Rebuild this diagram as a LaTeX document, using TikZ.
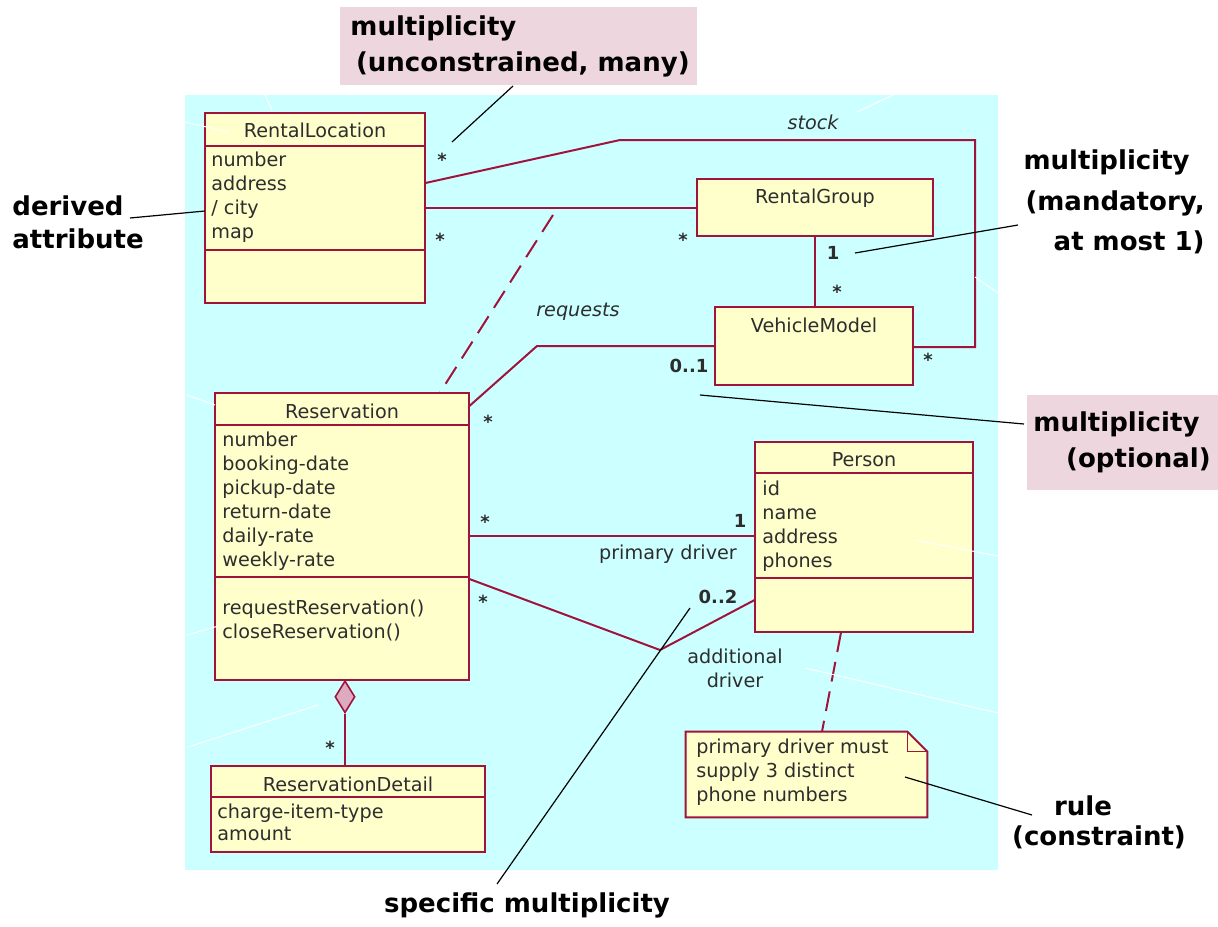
\documentclass[tikz,border=0pt]{standalone}
\usepackage{fontspec}
\setmainfont{DejaVu Sans}
\newfontfamily\calloutfont{DejaVu Sans}
\usetikzlibrary{fit,calc,shapes.geometric}

\definecolor{umlred}{RGB}{160,20,60}
\definecolor{umlfill}{RGB}{255,255,204}
\definecolor{bgcyan}{RGB}{204,255,255}
\definecolor{calloutpink}{RGB}{238,214,222}
\definecolor{diamondpink}{RGB}{222,170,192}
\definecolor{umltext}{RGB}{45,45,45}

\begin{document}
\begin{tikzpicture}[x=0.5pt,y=-0.5pt,
  classbox/.style={draw=umlred,line width=1pt,fill=umlfill,inner sep=0pt},
  compsep/.style={draw=umlred,line width=1pt},
  assoc/.style={draw=umlred,line width=1pt},
  depline/.style={draw=umlred,line width=1pt,dash pattern=on 10pt off 5pt},
  cname/.style={font=\fontsize{9.6}{12}\selectfont,text=umltext,inner sep=0pt},
  attr/.style={font=\fontsize{9.6}{12}\selectfont,text=umltext,anchor=west,inner sep=0pt,text height=7pt,text depth=2pt},
  mult/.style={font=\bfseries\fontsize{9}{11}\selectfont,text=umltext,inner sep=0pt},
  role/.style={font=\fontsize{9.6}{12}\selectfont,text=umltext,inner sep=0pt},
  rolename/.style={font=\itshape\fontsize{9.6}{12}\selectfont,text=umltext,inner sep=0pt},
  callout/.style={font=\calloutfont\bfseries\fontsize{13}{16}\selectfont,text=black,inner sep=0pt,anchor=west,text height=10pt,text depth=3pt},
  pointer/.style={draw=black,line width=0.6pt},
  ghost/.style={draw=white,line width=0.5pt}]

\useasboundingbox (0,0) rectangle (1218,926);
\fill[white] (0,0) rectangle (1218,926);

% diagram canvas and callout backgrounds
\fill[bgcyan] (185,95) rectangle (998,870);
\fill[calloutpink] (340,7) rectangle (697,85);
\fill[calloutpink] (1027,395) rectangle (1218,490);

% ---------- association lines ----------
\node[fit={(205,113) (425,303)},inner sep=0pt] (rl0) {};
\node[fit={(697,179) (933,236)},inner sep=0pt] (rg0) {};
\node[fit={(715,307) (913,385)},inner sep=0pt] (vm0) {};
\node[fit={(215,393) (469,680)},inner sep=0pt] (res0) {};
\node[fit={(755,442) (973,632)},inner sep=0pt] (per0) {};
\node[fit={(211,766) (485,852)},inner sep=0pt] (rd0) {};
\node[fit={(686,732) (927,817)},inner sep=0pt] (note) {};

% stock
\draw[assoc] (rl0.east |- 0,183) -- (620,140) -- (975,140) -- (975,347) -- (vm0.east |- 0,347);
% location -- group
\draw[assoc] (rl0.east |- 0,208) -- (rg0.west |- 0,208);
% group -- model
\draw[assoc] (rg0.south -| 815,0) -- (vm0.north -| 815,0);
% requests
\draw[assoc] (res0.east |- 0,406) -- (537,346) -- (vm0.west |- 0,346);
% dependency from reservation
\coordinate (depend) at (553,215);
\draw[depline] (depend) -- (res0.north -| 440,0);
% primary driver
\draw[assoc] (res0.east |- 0,536) -- (per0.west |- 0,536);
% additional driver
\draw[assoc] (res0.east |- 0,579) -- (660,650) -- (per0.west |- 0,600);
% note attachment
\draw[depline] (per0.south -| 841,0) -- (note.north -| 822,0);

% ---------- classes ----------
% RentalLocation
\node[classbox,fit={(205,113) (425,303)}] (rl) {};
\draw[compsep] (rl.west |- 0,146) -- (rl.east |- 0,146);
\draw[compsep] (rl.west |- 0,250) -- (rl.east |- 0,250);
\node[cname] (rl-name) at (315,130) {RentalLocation};
\foreach \t [count=\i from 0] in {number,address,{/ city},map}
  \node[attr] (rl-a\i) at (211,161+24*\i) {\t};

% RentalGroup
\node[classbox,fit={(697,179) (933,236)}] (rg) {};
\node[cname] (rg-name) at (815,198) {RentalGroup};

% VehicleModel
\node[classbox,fit={(715,307) (913,385)}] (vm) {};
\node[cname] (vm-name) at (814,325) {VehicleModel};

% Reservation
\node[classbox,fit={(215,393) (469,680)}] (res) {};
\draw[compsep] (res.west |- 0,425) -- (res.east |- 0,425);
\draw[compsep] (res.west |- 0,577) -- (res.east |- 0,577);
\node[cname] (res-name) at (342,411) {Reservation};
\foreach \t [count=\i from 0] in {number,booking-date,pickup-date,return-date,daily-rate,weekly-rate}
  \node[attr] (res-a\i) at (222,441+24*\i) {\t};
\node[attr] (res-o0) at (222,609) {requestReservation()};
\node[attr] (res-o1) at (222,633) {closeReservation()};

% Person
\node[classbox,fit={(755,442) (973,632)}] (per) {};
\draw[compsep] (per.west |- 0,473) -- (per.east |- 0,473);
\draw[compsep] (per.west |- 0,578) -- (per.east |- 0,578);
\node[cname] (per-name) at (864,460) {Person};
\foreach \t [count=\i from 0] in {id,name,address,phones}
  \node[attr] (per-a\i) at (762,490+24*\i) {\t};

% ReservationDetail
\node[classbox,fit={(211,766) (485,852)}] (rd) {};
\draw[compsep] (rd.west |- 0,797) -- (rd.east |- 0,797);
\node[cname] (rd-name) at (348,784) {ReservationDetail};
\node[attr] (rd-a0) at (217,813) {charge-item-type};
\node[attr] (rd-a1) at (217,835) {amount};

% composition diamond
\node[diamond,draw=umlred,fill=diamondpink,line width=0.8pt,inner sep=0pt,
      minimum width=10pt,minimum height=16pt,anchor=north] (agg) at (345,680) {};
\draw[assoc] (agg.south) -- (agg.south |- rd.north);

% constraint note
\draw[draw=umlred,line width=1pt,fill=umlfill]
  (note.north west) -- ($(note.north east)+(-20,0)$) -- ($(note.north east)+(0,20)$)
  -- (note.south east) -- (note.south west) -- cycle;
\draw[draw=umlred,line width=0.8pt]
  ($(note.north east)+(-20,0)$) -- ($(note.north east)+(-20,20)$) -- ($(note.north east)+(0,20)$);
\node[attr] (note-l0) at (696,748) {primary driver must};
\node[attr] (note-l1) at (696,772) {supply 3 distinct};
\node[attr] (note-l2) at (696,796) {phone numbers};

% ---------- multiplicities and roles ----------
\node[mult] (m1) at (442,160) {*};
\node[mult] (m2) at (440,240) {*};
\node[mult] (m3) at (683,240) {*};
\node[mult] (m4) at (833,253) {1};
\node[mult] (m5) at (837,292) {*};
\node[mult] (m6) at (928,360) {*};
\node[mult] (m7) at (689,366) {0..1};
\node[mult] (m8) at (488,422) {*};
\node[mult] (m9) at (485,522) {*};
\node[mult] (m10) at (740,521) {1};
\node[mult] (m11) at (483,602) {*};
\node[mult] (m12) at (718,597) {0..2};
\node[mult] (m13) at (330,748) {*};

\node[rolename] (r-stock) at (813,122) {stock};
\node[rolename] (r-req) at (578,312) {requests};
\node[role] (r-prim) at (668,554) {primary driver};
\node[role] (r-add1) at (735,656) {additional};
\node[role] (r-add2) at (735,680) {driver};

% ---------- faint guide strokes ----------
\draw[ghost] (185,122) -- (228,132);
\draw[ghost] (265,95) -- (272,110);
\draw[ghost] (857,112) -- (893,95);
\draw[ghost] (975,277) -- (998,293);
\draw[ghost] (187,395) -- (215,405);
\draw[ghost] (187,635) -- (222,625);
\draw[ghost] (188,747) -- (318,705);
\draw[ghost] (915,540) -- (998,556);
\draw[ghost] (805,668) -- (998,713);

% ---------- callouts ----------
\node[callout] (c-top1) at (350,28) {multiplicity};
\node[callout,anchor=east] (c-top2) at (690,64) {(unconstrained, many)};
\node[callout] (c-der1) at (12,208) {derived};
\node[callout] (c-der2) at (12,241) {attribute};
\node[callout,anchor=east] (c-man1) at (1190,162) {multiplicity};
\node[callout,anchor=east] (c-man2) at (1205,203) {(mandatory,};
\node[callout,anchor=east] (c-man3) at (1205,243) {at most 1)};
\node[callout] (c-opt1) at (1033,424) {multiplicity};
\node[callout,anchor=east] (c-opt2) at (1211,460) {(optional)};
\node[callout,anchor=center] (c-rule1) at (1083,808) {rule};
\node[callout,anchor=center] (c-rule2) at (1099,838) {(constraint)};
\node[callout,anchor=center] (c-spec) at (527,905) {specific multiplicity};

% callout pointers
\coordinate (p1a) at (513,86);   \coordinate (p1b) at (452,142);
\coordinate (p2a) at (130,218);  \coordinate (p2b) at (205,211);
\coordinate (p3a) at (1018,225); \coordinate (p3b) at (855,253);
\coordinate (p4a) at (1024,424); \coordinate (p4b) at (700,395);
\coordinate (p5a) at (497,884);  \coordinate (p5b) at (690,608);
\coordinate (p6a) at (1032,815); \coordinate (p6b) at (905,777);
\draw[pointer] (p1a) -- (p1b);
\draw[pointer] (p2a) -- (p2b);
\draw[pointer] (p3a) -- (p3b);
\draw[pointer] (p4a) -- (p4b);
\draw[pointer] (p5a) -- (p5b);
\draw[pointer] (p6a) -- (p6b);

\end{tikzpicture}
\end{document}
